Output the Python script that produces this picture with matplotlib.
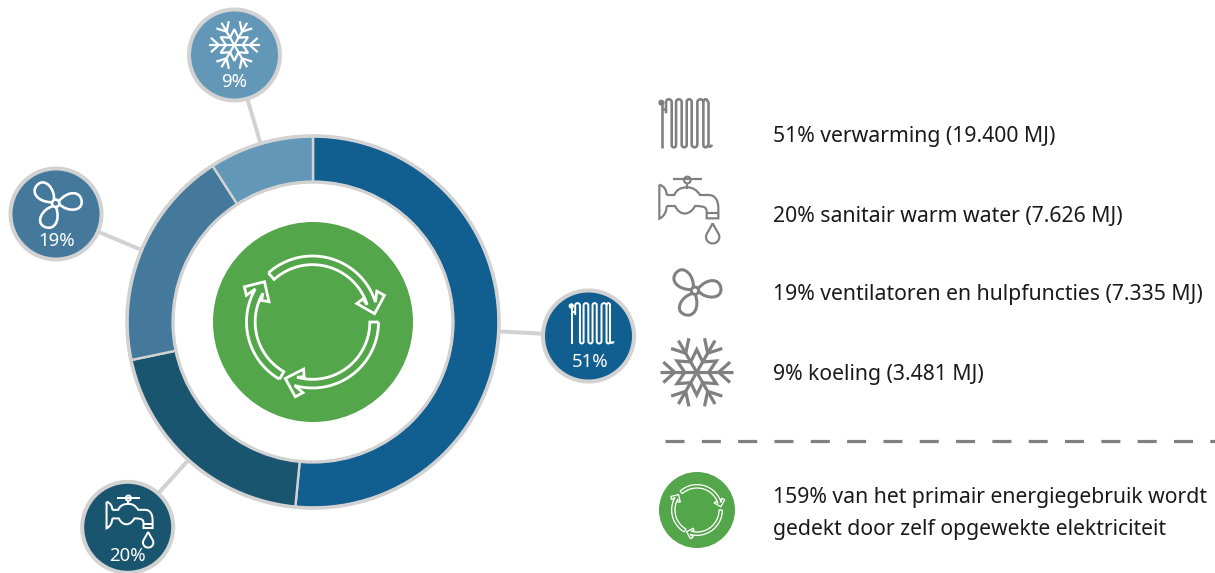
import numpy as np
import matplotlib
matplotlib.use("Agg")
import matplotlib.pyplot as plt
from matplotlib.patches import Circle, PathPatch
from matplotlib.path import Path

# ---- data ----
shares = [51, 20, 19, 9]
colors = ["#115E91", "#1A5570", "#44799C", "#6397B8"]
bubble_labels = ["51%", "20%", "19%", "9%"]
legend_labels = ["51% verwarming (19.400 MJ)", "20% sanitair warm water (7.626 MJ)",
                 "19% ventilatoren en hulpfuncties (7.335 MJ)", "9% koeling (3.481 MJ)"]
note_lines = ["159% van het primair energiegebruik wordt", "gedekt door zelf opgewekte elektriciteit"]

W, H = 1215, 573
GREEN, RING, GREY = "#53A64A", "#D2D2D2", "#808080"
FONT = "Noto Sans"
PX = 0.72
CX, CY, R_OUT, R_IN = 313, 322, 186, 140

fig = plt.figure(figsize=(W / 100, H / 100), dpi=100)
ax = fig.add_axes([0, 0, 1, 1])
ax.pie(shares, colors=colors, center=(CX, CY), radius=R_OUT, startangle=-90, counterclock=True,
       frame=True, wedgeprops=dict(width=R_OUT - R_IN, edgecolor=RING, linewidth=2.4 * PX))
ax.set_xlim(0, W)
ax.set_ylim(H, 0)
ax.set_aspect("equal")
ax.set_axis_off()


def stroke(xs, ys, color, lw, z=6, closed=False):
    xs, ys = list(xs), list(ys)
    if closed:
        xs.append(xs[0]); ys.append(ys[0])
    ax.plot(xs, ys, color=color, lw=lw * PX, solid_capstyle="butt", solid_joinstyle="miter",
            zorder=z, clip_on=True)


def radiator(px, py, s, color, lw):
    cols = [78, 95, 108, 125, 140, 155, 172, 190, 203]
    t, b = 58, 202
    def T(x, y):
        return px + (np.asarray(x, float) - 137) * s, py + (np.asarray(y, float) - 130) * s
    xs, ys = [78], [100]
    th = np.linspace(np.pi, 0, 14)
    for i in range(0, 8, 2):
        a, c = cols[i], cols[i + 1]
        m, r = (a + c) / 2, (c - a) / 2
        xs += list(m + r * np.cos(th)); ys += list(t + r - r * np.sin(th))
        nxt = cols[i + 2]
        m2, r2 = (c + nxt) / 2, (nxt - c) / 2
        xs += list(m2 + r2 * np.cos(th)); ys += list(b - r2 + r2 * np.sin(th))
    X, Y = T(xs, ys)
    stroke(X, Y, color, lw)
    X, Y = T([203, 203], [b - 6, 62])
    stroke(X, Y, color, lw)
    arc = np.linspace(np.pi, 0, 14)
    X, Y = T(196.5 + 6.5 * np.cos(arc), 66 - 8 * np.sin(arc))
    stroke(X, Y, color, lw)
    arc = np.linspace(np.pi, 0, 10)
    X, Y = T(209 + 6 * np.cos(arc), 194 + 6 * np.sin(arc))
    stroke(X, Y, color, lw)
    X, Y = T([66, 66], [68, 205])
    stroke(X, Y, color, lw)
    ax.add_patch(Circle(T(64, 68), 7 * s, color=color, zorder=6))
    X, Y = T([66, 78], [88, 88])
    stroke(X, Y, color, lw)


def faucet(px, py, s, color, lw):
    def add(pts, codes, fc="none"):
        pts = np.array(pts, float)
        pts = np.c_[px + (pts[:, 0] - 147) * s, py + (pts[:, 1] - 393) * s]
        ax.add_patch(PathPatch(Path(pts, codes), fc=fc, ec=color, lw=lw * PX, zorder=6, capstyle="butt"))
    M, L, C = Path.MOVETO, Path.LINETO, Path.CURVE4
    add([(100, 298), (185, 298)], [M, L])
    add([(142, 310), (142, 326)], [M, L])
    th = np.linspace(0, 2 * np.pi, 30)
    add(np.c_[142 + 10 * np.cos(th), 300 + 10 * np.sin(th)], [M] + [L] * 29)
    add([(58, 314), (58, 416), (72, 410), (80, 395), (80, 378)], [M, L, C, C, C])
    add([(58, 314), (72, 318), (80, 330), (80, 345)], [M, C, C, C])
    add([(80, 345), (103, 345), (108, 330), (122, 322), (142, 322), (160, 322), (172, 332), (180, 345),
         (205, 345), (225, 345), (235, 360), (235, 385), (235, 415), (200, 415), (200, 395),
         (200, 382), (192, 378), (165, 378), (152, 404), (122, 412), (105, 378), (80, 378)],
        [M, L, C, C, C, C, C, C, L, C, C, C, L, L, L, C, C, C, C, C, C, L])
    add([(200, 398), (235, 398)], [M, L])
    add([(218, 430), (205, 455), (198, 462), (198, 470), (198, 497), (238, 497), (238, 470),
         (238, 462), (231, 455), (218, 430)], [M, C, C, C, C, C, C, C, C, C])


def fan(px, py, s, color, lw):
    for ang in (-137, -7, 113):
        a = np.radians(ang)
        rot = np.array([[np.cos(a), -np.sin(a)], [np.sin(a), np.cos(a)]])
        local = np.array([(11, 4), (30, 30), (78, 36), (78, 2), (78, -28), (42, -34), (11, -6)], float)
        pts = local @ rot.T * s + np.array([px, py])
        ax.add_patch(PathPatch(Path(pts, [Path.MOVETO] + [Path.CURVE4] * 6), fc="none", ec=color,
                               lw=lw * PX, zorder=6))
    ax.add_patch(Circle((px, py), 11 * s, fc="none", ec=color, lw=lw * PX, zorder=6))


def snowflake(px, py, s, color, lw):
    for k in range(6):
        a = np.radians(60 * k)
        c, d = np.cos(a), np.sin(a)
        stroke([px, px + 110 * s * c], [py, py + 110 * s * d], color, lw)
        bx, by = px + 66 * s * c, py + 66 * s * d
        for sign in (-1, 1):
            b = a + sign * np.radians(42)
            stroke([bx, bx + 46 * s * np.cos(b)], [by, by + 46 * s * np.sin(b)], color, lw)
    angs = np.radians(np.arange(0, 360, 30))
    rs = np.array([36, 68] * 6)
    stroke(px + rs * s * np.cos(angs), py + rs * s * np.sin(angs), color, lw, closed=True)


def recycle(px, py, s, color, lw):
    ro, ri = 198, 172
    starts = [-42, 90, 210]
    tips = [82.4, 205.7, 310]
    def pol(r, deg):
        t = np.radians(deg)
        return px + r * s * np.sin(t), py - r * s * np.cos(t)
    for a0, tip in zip(starts, tips):
        neck = tip - 10
        outer = np.linspace(a0, neck, 40)
        inner = np.linspace(neck, a0, 40)
        head = [(214, tip - 18), (230, tip - 12.7), (188, tip), (144, tip - 15), (166, tip - 17)]
        xs = [pol(ro, q)[0] for q in outer] + [pol(r, q)[0] for r, q in head] + [pol(ri, q)[0] for q in inner]
        ys = [pol(ro, q)[1] for q in outer] + [pol(r, q)[1] for r, q in head] + [pol(ri, q)[1] for q in inner]
        stroke(xs, ys, color, lw, closed=True)


ICONS = [radiator, faucet, fan, snowflake]
bub_xy = [(588.5, 336), (127.7, 527.3), (56, 214), (234.5, 55)]
bub_icon = [(591.7, 323.3, 0.28, 2.0), (129.7, 522.3, 0.26, 2.0), (55.7, 203.3, 1 / 3, 2.6), (234.3, 45, 0.233, 2.2)]
bub_text = [(590, 362), (127.5, 556), (57, 241), (234.5, 82)]
leg_icon = [(685.7, 123.3, 1 / 3, 2.6), (689, 211, 1 / 3, 2.2), (695, 290.7, 1 / 3, 3.0), (696.7, 372.3, 1 / 3, 3.2)]
leg_y = [136.5, 216.5, 294.5, 374.5]
note_y = [498, 529.5]
TXT = 15.25

# donut outline
ax.add_patch(Circle((CX, CY), R_OUT, fc="none", ec=RING, lw=3.6 * PX, zorder=3))
ax.add_patch(Circle((CX, CY), R_IN, fc="none", ec=RING, lw=3.2 * PX, zorder=3))
# centre disc
ax.add_patch(Circle((CX, CY), 100, fc=GREEN, ec="none", zorder=4))
recycle(CX - 0.5, CY, 1 / 3, "white", 2.8)

for i, (bx, by) in enumerate(bub_xy):
    u = np.array([bx - CX, by - CY])
    edge = np.array([CX, CY]) + u / np.linalg.norm(u) * R_OUT
    ax.plot([bx, edge[0]], [by, edge[1]], color=RING, lw=4 * PX, zorder=0.5, solid_capstyle="butt")
    ax.add_patch(Circle((bx, by), 45.5, fc=colors[i], ec=RING, lw=4 * PX, zorder=4))
    ix, iy, s, lw = bub_icon[i]
    ICONS[i](ix, iy, s, "white", lw)
    tx, ty = bub_text[i]
    ax.text(tx, ty, bubble_labels[i], color="white", fontsize=13.4, family=FONT, ha="center", va="center", zorder=7)
    ix, iy, s, lw = leg_icon[i]
    ICONS[i](ix, iy, s, GREY, lw)
    ax.text(773, leg_y[i], legend_labels[i], color="#1A1A1A", fontsize=TXT, family=FONT, ha="left", va="center")

ax.plot([665, 1215], [440.5, 440.5], color=GREY, lw=3.2 * PX, dashes=(5.95, 5.4), dash_capstyle="butt")
ax.add_patch(Circle((697, 510), 38, fc=GREEN, ec="none", zorder=4))
recycle(697, 510, 0.128, "white", 1.3)
for y, line in zip(note_y, note_lines):
    ax.text(773, y, line, color="#1A1A1A", fontsize=TXT, family=FONT, ha="left", va="center")

fig.savefig("out.png", dpi=100, facecolor="white")
